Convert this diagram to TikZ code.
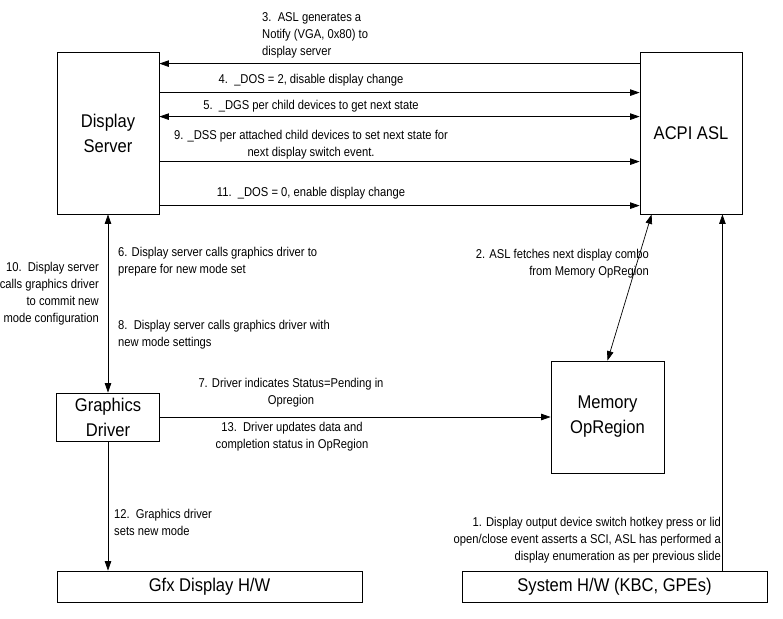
\documentclass[tikz,border=0pt]{standalone}
\usepackage{fontspec}
\setmainfont{Liberation Sans}[FakeStretch=0.9]
\newfontfamily\labfont{Liberation Sans}[FakeStretch=0.875]
\usetikzlibrary{arrows.meta,positioning,calc}
\tikzset{
  hwbox/.style={draw=black, line width=0.8pt, fill=white, inner sep=0pt,
                align=center, font=\fontsize{18.4}{25}\selectfont},
  sigarr/.style={-{Triangle[length=9.5pt,width=6.5pt]}, draw=black, line width=0.7pt},
  biarr/.style={{Triangle[length=9.5pt,width=6.5pt]}-{Triangle[length=9.5pt,width=6.5pt]},
                draw=black, line width=0.7pt},
  siglab/.style={inner sep=0pt, text=black, font=\labfont\fontsize{12.8}{17}\selectfont},
}
\begin{document}
\begin{tikzpicture}[x=1pt,y=-1pt]
\useasboundingbox (0,0) rectangle (783,618);
\node[hwbox, minimum width=102pt, minimum height=162pt] (ds) at (108,133) {Display\\Server};
\node[hwbox, minimum width=102pt, minimum height=162pt] (acpi) at (691,133) {ACPI ASL};
\node[hwbox, minimum width=103pt, minimum height=48pt] (gd) at (108,417) {Graphics\\Driver};
\node[hwbox, minimum width=113pt, minimum height=112pt] (mem) at (607.5,417) {Memory\\OpRegion};
\node[hwbox, minimum width=305pt, minimum height=31pt] (gfx) at (209.5,586.5) {Gfx Display H/W};
\node[hwbox, minimum width=305pt, minimum height=31pt] (sys) at (614.5,586.5) {System H/W (KBC, GPEs)};
\coordinate (hk) at ([xshift=-20pt]acpi.south east);
% server <-> ASL messages
\draw[sigarr] ([yshift=-12pt]acpi.north west) -- ([yshift=-12pt]ds.north east);
\draw[sigarr] ([yshift=-41pt]ds.north east) -- ([yshift=-41pt]acpi.north west);
\draw[biarr] ([yshift=-65pt]ds.north east) -- ([yshift=-65pt]acpi.north west);
\draw[sigarr] ([yshift=-110pt]ds.north east) -- ([yshift=-110pt]acpi.north west);
\draw[sigarr] ([yshift=-154pt]ds.north east) -- ([yshift=-154pt]acpi.north west);
\node[siglab, anchor=west, align=left] (l3) at (262,35) {3.\ \ ASL generates a\\Notify (VGA, 0x80) to\\display server};
\node[siglab] (l4) at (311,80) {4.\ \ \_DOS = 2, disable display change};
\node[siglab] (l5) at (311,106) {5.\ \ \_DGS per child devices to get next state};
\node[siglab, align=center] (l9) at (311,145) {9. \_DSS per attached child devices to set next state for\\next display switch event.};
\node[siglab] (l11) at (311,193) {11.\ \ \_DOS = 0, enable display change};
% driver side
\draw[biarr] (ds.south) -- (gd.north);
\draw[sigarr] (gd.south) -- (gd.south |- gfx.north);
\draw[sigarr] (gd.east) -- (mem.west);
\draw[biarr] ([xshift=12pt]acpi.south west) -- (mem.north);
\draw[sigarr] (sys.north -| hk) -- (hk);
\node[siglab, anchor=east, align=right] (l10) at (99,294) {10.\ \ Display server\\calls graphics driver\\to commit new\\mode configuration};
\node[siglab, anchor=west, align=left] (l6) at (118,262) {6. Display server calls graphics driver to\\prepare for new mode set};
\node[siglab, anchor=west, align=left] (l8) at (118,335) {8.\ \ Display server calls graphics driver with\\new mode settings};
\node[siglab, anchor=east, align=right] (l2) at (649,264) {2. ASL fetches next display combo\\from Memory OpRegion};
\node[siglab, align=center] (l7) at (291,393) {7. Driver indicates Status=Pending in\\Opregion};
\node[siglab, align=center] (l13) at (292,437) {13.\ \ Driver updates data and\\completion status in OpRegion};
\node[siglab, anchor=west, align=left] (l12) at (114,522) {12.\ \ Graphics driver\\sets new mode};
\node[siglab, anchor=east, align=right] (l1) at (721,540) {1. Display output device switch hotkey press or lid\\open/close event asserts a SCI, ASL has performed a\\display enumeration as per previous slide};
\end{tikzpicture}
\end{document}
